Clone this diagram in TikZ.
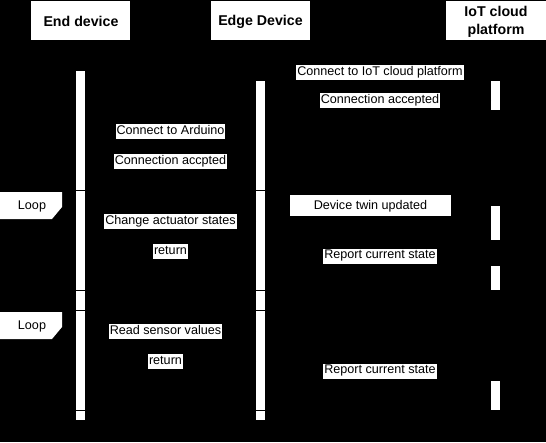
\documentclass[tikz,border=0pt]{standalone}
\usepackage{fontspec}
\setmainfont{Liberation Sans}
\usetikzlibrary{arrows.meta,calc}
\begin{document}
\begin{tikzpicture}[x=1pt,y=-1pt,
  hdr/.style={fill=white,draw=none,font=\fontsize{14.2}{18}\selectfont\bfseries,align=center,inner sep=0pt},
  bar/.style={fill=white,draw=none},
  lbl/.style={fill=white,draw=none,font=\fontsize{12.6}{15}\selectfont,inner xsep=1pt,inner ysep=1.6pt,text height=8.6pt,text depth=3.2pt},
  msg/.style={draw=black,-{Triangle[length=6pt,width=5pt]}},
  ret/.style={draw=black,dashed,-{Stealth[length=6pt,width=5pt]}},
  life/.style={draw=black,dashed},
  frame/.style={draw=black,line width=1pt},
  looplbl/.style={fill=white,draw=none},
  plain/.style={font=\fontsize{12.6}{15}\selectfont}]
\useasboundingbox (0,0) rectangle (546,442);
\fill[black] (0,0) rectangle (546,442);
% headers
\path[fill=white] (31,1) rectangle (130,40);
\path[fill=white] (211,1) rectangle (310,40);
\path[fill=white] (446,1) rectangle (546,40);
\node[hdr] (h1) at (81,21.5) {End device};
\node[hdr] (h2) at (260.5,21.5) {Edge Device};
\node[hdr] (h3) at (496,22) {IoT cloud\\platform};
% lifelines
\coordinate (t1) at (80.5,40);
\coordinate (t2) at (260.5,40);
\coordinate (t3) at (495.5,40);
\coordinate (l1) at (80.5,420);
\coordinate (l2) at (260.5,420);
\coordinate (l3) at (495.5,420);
\draw[life] (t1) -- (l1);
\draw[life] (t2) -- (l2);
\draw[life] (t3) -- (l3);
% activation bars
\path[bar] (76,71) rectangle (85,420);
\path[bar] (256,81) rectangle (265,420);
\path[bar] (491,81) rectangle (500,110);
\path[bar] (491,206) rectangle (500,240);
\path[bar] (491,266) rectangle (500,290);
\path[bar] (491,381) rectangle (500,410);
\coordinate (e1) at (85,0);
\coordinate (e2l) at (256,0);
\coordinate (e2r) at (265,0);
\coordinate (e3) at (491,0);
% loop frames
\draw[frame] (0,190.5) rectangle (530,290.5);
\draw[frame] (0,310.5) rectangle (530,410.5);
\fill[looplbl] (0,192) -- (62,192) -- (62,207) -- (52,219) -- (0,219) -- cycle;
\node[plain] (loop1) at (32,206) {Loop};
\fill[looplbl] (0,312) -- (62,312) -- (62,327) -- (52,339) -- (0,339) -- cycle;
\node[plain] (loop2) at (32,326) {Loop};
% messages end device <-> edge device
\draw[msg] (e1 |- 0,131.5) -- (e2l |- 0,131.5) node[lbl,midway] (m1) {Connect to Arduino};
\draw[ret] (e2l |- 0,161.5) -- (e1 |- 0,161.5) node[lbl,midway] (m2) {Connection accpted};
\draw[msg] (e2l |- 0,221.5) -- (e1 |- 0,221.5) node[lbl,midway] (m3) {Change actuator states};
\draw[ret] (e1 |- 0,251.5) -- (e2l |- 0,251.5) node[lbl,midway] (m4) {return};
\draw[msg] (e2l |- 0,331.5) -- (e1 |- 0,331.5) node[lbl,midway,xshift=-5pt] (m5) {Read sensor values};
\draw[ret] (e1 |- 0,361.5) -- (e2l |- 0,361.5) node[lbl,midway,xshift=-5pt] (m6) {return};
% messages edge device <-> cloud
\draw[msg] (e2r |- 0,72.5) -- (e3 |- 0,72.5) node[lbl,midway,xshift=2pt] (c1) {Connect to IoT cloud platform};
\draw[ret] (e3 |- 0,100.5) -- (e2r |- 0,100.5) node[lbl,midway,xshift=2pt] (c2) {Connection accepted};
\draw[msg] (e3 |- 0,205.5) -- (e2r |- 0,205.5);
\path[fill=white] (290,195) rectangle (451,216);
\node[plain] (c3) at (370.5,206) {Device twin updated};
\draw[msg] (e2r |- 0,256) -- (e3 |- 0,256) node[lbl,midway,xshift=2pt] (c4) {Report current state};
\draw[msg] (e2r |- 0,371) -- (e3 |- 0,371) node[lbl,midway,xshift=2pt] (c5) {Report current state};
\end{tikzpicture}
\end{document}
